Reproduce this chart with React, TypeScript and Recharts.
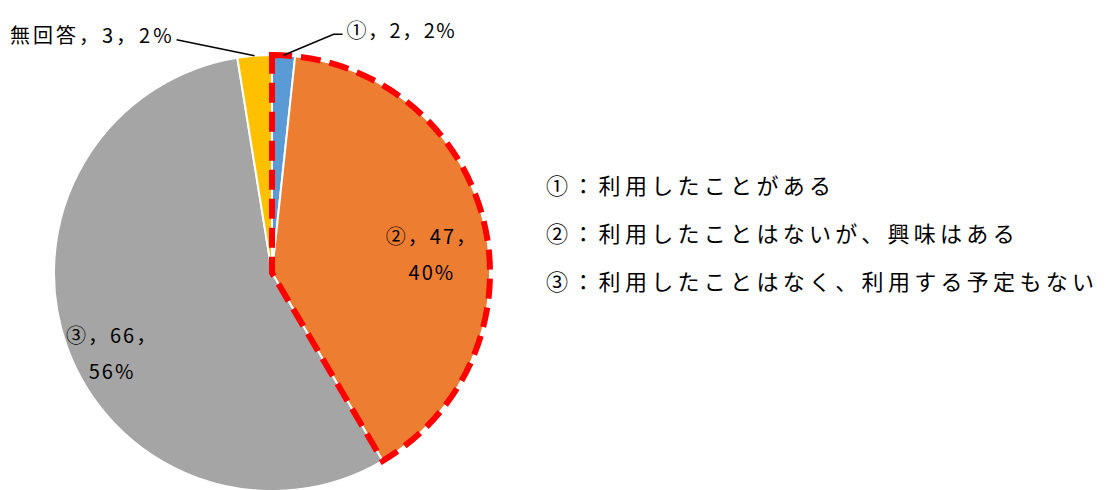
import React from "react";
import { PieChart, Pie, Cell, Legend } from "recharts";

const categories = ["①", "②", "③", "無回答"];
const counts = [2, 47, 66, 3];
const percentLabels = ["2%", "40%", "56%", "2%"];
const colors = ["#5B9BD5", "#ED7D31", "#A5A5A5", "#FFC000"];
const legendItems = [
    "①：利用したことがある",
    "②：利用したことはないが、興味はある",
    "③：利用したことはなく、利用する予定もない",
];
// slices outlined together with the red dashed border
const highlighted = ["①", "②"];

const data = categories.map((name, i) => ({ name, value: counts[i] }));
const highlightTotal = data.filter((d) => highlighted.includes(d.name)).reduce((s, d) => s + d.value, 0);
const restTotal = data.filter((d) => !highlighted.includes(d.name)).reduce((s, d) => s + d.value, 0);
const outlineData = [
    { name: "highlight", value: highlightTotal },
    { name: "rest", value: restTotal },
];

const FONT = "'Noto Sans CJK JP', 'Noto Sans', sans-serif";
const RAD = Math.PI / 180;

const polar = (cx: number, cy: number, r: number, angle: number) => ({
    x: cx + r * Math.cos(-angle * RAD),
    y: cy + r * Math.sin(-angle * RAD),
});

// outside labels with leader lines
const outerCfg: Record<number, { elbow: [number, number]; end: [number, number]; anchor: "start" | "end" }> = {
    0: { elbow: [50, -21], end: [59, -21], anchor: "start" },
    3: { elbow: [-78, -16], end: [-78, -16], anchor: "end" },
};
// inside labels: radius factor and small nudges
const innerCfg: Record<number, { rf: number; dx: number; dy: number }> = {
    1: { rf: 0.76, dx: -2, dy: 16 },
    2: { rf: 0.78, dx: 0, dy: 22 },
};

const renderLabel = (props: any) => {
    const { cx, cy, midAngle, outerRadius, index } = props;
    const name = categories[index];
    const val = counts[index];
    const pct = percentLabels[index];
    if (outerCfg[index]) {
        const c = outerCfg[index];
        const p = polar(cx, cy, outerRadius, midAngle);
        const ex = p.x + c.elbow[0];
        const ey = p.y + c.elbow[1];
        const tx = p.x + c.end[0];
        const ty = p.y + c.end[1];
        return (
            <g>
                <polyline points={`${p.x},${p.y} ${ex},${ey} ${tx},${ty}`} fill="none" stroke="#000" strokeWidth={1.5} />
                <text
                    x={c.anchor === "start" ? tx + 4 : tx - 2}
                    y={ty - 5}
                    textAnchor={c.anchor}
                    dominantBaseline="central"
                    fontFamily={FONT}
                    fontSize={20}
                    letterSpacing={index === 3 ? 3 : 1.5}
                    fill="#000"
                >
                    {`${name}，${val}，${pct}`}
                </text>
            </g>
        );
    }
    const c = innerCfg[index];
    const p = polar(cx, cy, outerRadius * c.rf, midAngle);
    const x = p.x + c.dx;
    const y = p.y + c.dy;
    return (
        <text x={x} textAnchor="middle" fontFamily={FONT} fontSize={20} letterSpacing={2} fill="#000">
            <tspan x={x} y={y - 18} dominantBaseline="central">{`${name}，${val}，`}</tspan>
            <tspan x={x} y={y + 18} dominantBaseline="central">{pct}</tspan>
        </text>
    );
};

const renderLegend = () => (
    <div style={{ fontFamily: FONT, fontSize: 22, letterSpacing: 4.3, color: "#000" }}>
        {legendItems.map((t) => (
            <div key={t} style={{ height: 48, lineHeight: "48px", whiteSpace: "nowrap" }}>
                {t}
            </div>
        ))}
    </div>
);

export default function App() {
    return (
        <div style={{ position: "absolute", left: 0, top: 0, background: "#fff" }}>
            <PieChart width={1110} height={490} margin={{ top: 0, right: 0, bottom: 0, left: 0 }}>
                <Pie
                    data={data}
                    dataKey="value"
                    nameKey="name"
                    cx={272}
                    cy={273}
                    outerRadius={218}
                    startAngle={90}
                    endAngle={-270}
                    stroke="#fff"
                    strokeWidth={2}
                    label={renderLabel}
                    labelLine={false}
                    isAnimationActive={false}
                >
                    {data.map((d, i) => (
                        <Cell key={d.name} fill={colors[i]} />
                    ))}
                </Pie>
                <Pie
                    data={outlineData}
                    dataKey="value"
                    cx={272}
                    cy={273}
                    outerRadius={218}
                    startAngle={90}
                    endAngle={-270}
                    fill="none"
                    label={false}
                    labelLine={false}
                    isAnimationActive={false}
                >
                    {outlineData.map((d, i) => (
                        <Cell
                            key={d.name}
                            fill="none"
                            stroke={i === 0 ? "#FF0000" : "none"}
                            strokeWidth={i === 0 ? 6 : 0}
                            strokeDasharray={i === 0 ? "20 9" : undefined}
                        />
                    ))}
                </Pie>
                <Legend
                    content={renderLegend}
                    wrapperStyle={{ position: "absolute", left: 546, top: 160, width: 564 }}
                />
            </PieChart>
        </div>
    );
}
